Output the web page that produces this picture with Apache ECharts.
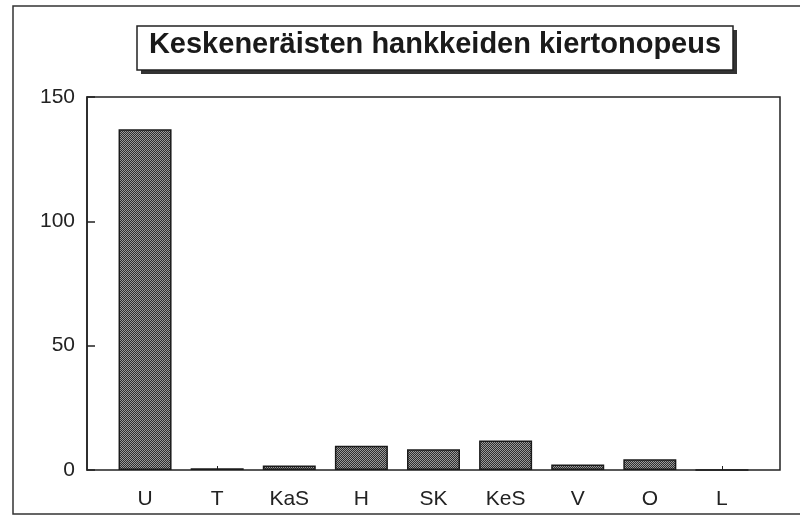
<!DOCTYPE html>
<html>
<head>
<meta charset="utf-8">
<script src="https://cdn.jsdelivr.net/npm/echarts@6/dist/echarts.min.js"></script>
<style>
  html, body { margin: 0; padding: 0; background: #fff; }
  #main { width: 800px; height: 524px; }
</style>
</head>
<body>
<div id="main"></div>
<script>
var categories = ['U', 'T', 'KaS', 'H', 'SK', 'KeS', 'V', 'O', 'L']
var values = [137, 0.7, 1.8, 9.8, 8.3, 11.9, 2.2, 4.3, 0]
var yTicks = [0, 50, 100, 150]

var myChart = echarts.init(document.getElementById('main'))
var font = 'Liberation Sans, Arial, sans-serif'

// dithered grey fill like the scanned original
var tile = document.createElement('canvas')
tile.width = 2
tile.height = 2
var ctx = tile.getContext('2d')
ctx.fillStyle = '#2e2e2e'
ctx.fillRect(0, 0, 2, 2)
ctx.fillStyle = '#9a9a9a'
ctx.fillRect(0, 0, 1, 1)
ctx.fillRect(1, 1, 1, 1)

var option = {
  animation: false,
  backgroundColor: '#fff',
  title: {
    text: 'Keskeneräisten hankkeiden kiertonopeus',
    left: 435,
    top: 30,
    textAlign: 'center',
    padding: 0,
    textStyle: {
      fontFamily: font,
      fontSize: 29,
      fontWeight: 'bold',
      color: '#1a1a1a'
    }
  },
  graphic: [
    {
      type: 'rect',
      shape: { x: 13, y: 6, width: 800, height: 508 },
      style: { fill: 'none', stroke: '#333', lineWidth: 1.5 },
      silent: true
    },
    {
      type: 'rect',
      z: -1,
      shape: { x: 141, y: 30, width: 596, height: 44 },
      style: { fill: '#333' },
      silent: true
    },
    {
      type: 'rect',
      z: 0,
      shape: { x: 137, y: 26, width: 596, height: 44 },
      style: { fill: '#fff', stroke: '#222', lineWidth: 1.5 },
      silent: true
    }
  ],
  grid: [
    { left: 87, top: 97, width: 693, height: 373, show: true, borderColor: '#222', borderWidth: 1.5, backgroundColor: 'transparent' },
    { left: 109, top: 97, width: 649, height: 373 }
  ],
  xAxis: [
    { gridIndex: 0, type: 'value', show: false, min: 0, max: 1 },
    {
      gridIndex: 1,
      type: 'category',
      data: categories,
      axisLine: { show: false },
      axisTick: { show: true, inside: true, alignWithLabel: true, length: 4, lineStyle: { color: '#222' } },
      axisLabel: { margin: 19, fontFamily: font, fontSize: 21, color: '#222' }
    }
  ],
  yAxis: [
    {
      gridIndex: 0,
      type: 'value',
      min: yTicks[0],
      max: yTicks[yTicks.length - 1],
      interval: 50,
      axisLine: { show: true, lineStyle: { color: '#222', width: 1.5 } },
      axisTick: { show: true, inside: true, length: 8, lineStyle: { color: '#222', width: 1.5 } },
      splitLine: { show: false },
      axisLabel: { margin: 12, fontFamily: font, fontSize: 21, color: '#222' }
    },
    { gridIndex: 1, type: 'value', min: 0, max: 150, show: false }
  ],
  series: [{
    type: 'bar',
    xAxisIndex: 1,
    yAxisIndex: 1,
    data: values,
    barWidth: 53,
    itemStyle: {
      color: { image: tile, repeat: 'repeat' },
      borderColor: '#1a1a1a',
      borderWidth: 1.5
    }
  }]
}
myChart.setOption(option)
</script>
</body>
</html>
